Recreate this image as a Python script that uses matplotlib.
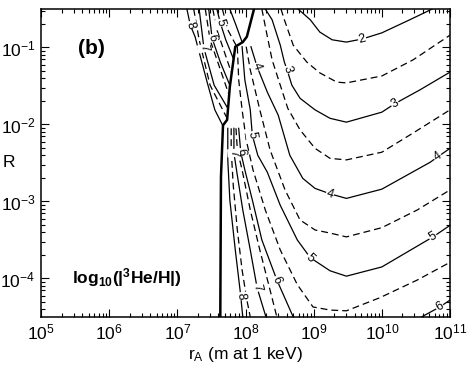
import numpy as np
import matplotlib
matplotlib.use("Agg")
from matplotlib import pyplot as plt

plt.rcParams['font.family'] = ['Liberation Sans', 'DejaVu Sans']
plt.rcParams['mathtext.fontset'] = 'custom'
plt.rcParams['mathtext.rm'] = 'Liberation Sans'
plt.rcParams['mathtext.it'] = 'Liberation Sans:italic'
plt.rcParams['mathtext.bf'] = 'Liberation Sans:bold'
plt.rcParams['axes.unicode_minus'] = False

# contours of log10(|3He/H|) as (log10 r_A, log10 R)
# right of the boundary
c2_x = [8.77, 8.95, 9.09, 9.27, 9.48, 9.71, 10.0, 10.41, 10.74]
c2_y = [-0.50, -0.64, -0.80, -0.90, -0.93, -0.89, -0.81, -0.64, -0.50]
c25_x = [8.52, 8.57, 8.70, 8.90, 9.09, 9.34, 9.48, 10.0, 10.46, 11.0]
c25_y = [-0.50, -0.64, -0.97, -1.19, -1.33, -1.45, -1.46, -1.37, -1.16, -0.84]
c3_x = [8.29, 8.39, 8.51, 8.57, 8.61, 8.68, 8.80, 9.02, 9.24, 9.48, 10.0, 10.19, 10.56, 11.0]
c3_y = [-0.50, -0.64, -0.97, -1.19, -1.29, -1.49, -1.66, -1.81, -1.92, -1.97, -1.84, -1.73, -1.55, -1.32]
c35_x = [8.24, 8.30, 8.39, 8.51, 8.62, 8.80, 9.02, 9.24, 9.48, 10.0, 10.46, 11.0]
c35_y = [-0.50, -0.77, -1.16, -1.49, -1.79, -2.07, -2.31, -2.44, -2.46, -2.36, -2.11, -1.81]
c4_x = [8.08, 8.17, 8.32, 8.48, 8.65, 8.84, 9.02, 9.24, 9.48, 10.0, 10.71, 10.82, 11.0]
c4_y = [-0.99, -1.25, -1.58, -1.88, -2.40, -2.70, -2.83, -2.90, -2.96, -2.84, -2.49, -2.42, -2.31]
c45_x = [8.01, 8.07, 8.14, 8.21, 8.36, 8.58, 8.80, 9.02, 9.24, 9.48, 10.0, 10.52, 11.0]
c45_y = [-0.99, -1.29, -1.55, -1.81, -2.33, -2.85, -3.24, -3.37, -3.41, -3.46, -3.34, -3.11, -2.85]
c5_x = [7.95, 7.99, 8.07, 8.10, 8.18, 8.32, 8.51, 8.76, 8.95, 9.24, 9.48, 10.0, 10.75, 11.0]
c5_y = [-0.99, -1.42, -1.81, -2.14, -2.40, -2.62, -3.05, -3.50, -3.73, -3.90, -3.97, -3.85, -3.46, -3.31]
c55_x = [7.88, 7.90, 7.95, 8.01, 8.11, 8.29, 8.51, 8.76, 8.99, 9.24, 9.48, 9.97, 10.52, 11.0]
c55_y = [-0.99, -1.42, -1.81, -2.20, -2.59, -3.11, -3.63, -4.08, -4.37, -4.41, -4.42, -4.25, -4.02, -3.79]
c6_x = [7.90, 7.93, 7.99, 8.10, 8.24, 8.46, 8.70, 8.80, 9.48, 10.0, 10.56, 10.85, 11.0]
c6_y = [-2.05, -2.36, -2.59, -2.98, -3.50, -4.02, -4.50, -4.73, -4.86, -4.73, -4.51, -4.37, -4.28]
c65_x = [7.86, 7.88, 7.95, 8.07, 8.21, 8.36, 8.46, 8.55]
c65_y = [-2.05, -2.33, -2.59, -3.11, -3.63, -4.15, -4.50, -4.70]
c7_x = [7.83, 7.83, 7.88, 7.96, 8.07, 8.17, 8.30, 8.40]
c7_y = [-2.05, -2.37, -2.66, -3.11, -3.63, -4.12, -4.50, -4.75]
c75_x = [7.79, 7.79, 7.82, 7.88, 7.95, 8.02, 8.07]
c75_y = [-2.05, -2.33, -2.79, -3.37, -3.89, -4.28, -4.50]
c8_x = [7.74, 7.74, 7.77, 7.85, 7.92, 7.93, 7.96]
c8_y = [-2.05, -2.46, -2.98, -3.63, -4.15, -4.23, -4.50]

# left of the boundary
l8_x = [7.14, 7.19, 7.26, 7.44, 7.55, 7.67]
l8_y = [-0.50, -0.71, -0.86, -1.46, -1.81, -2.02]
l75_x = [7.24, 7.32, 7.48, 7.73]
l75_y = [-0.50, -0.90, -1.49, -1.92]
l7_x = [7.32, 7.39, 7.54, 7.74]
l7_y = [-0.50, -1.01, -1.49, -1.79]
l65_x = [7.41, 7.48, 7.76]
l65_y = [-0.50, -0.90, -1.62]
l6_x = [7.46, 7.51, 7.63, 7.77]
l6_y = [-0.50, -0.88, -1.19, -1.49]
l55_x = [7.52, 7.58, 7.79]
l55_y = [-0.50, -0.77, -1.32]
l5_x = [7.58, 7.63, 7.71, 7.82]
l5_y = [-0.50, -0.68, -0.90, -1.14]
l45_x = [7.66, 7.74, 7.86]
l45_y = [-0.50, -0.77, -0.97]
l4_x = [7.77, 7.86, 7.95]
l4_y = [-0.50, -0.71, -0.93]

# thick boundary line
edge_x = [8.125, 8.02, 7.96, 7.85, 7.77, 7.73, 7.67, 7.64, 7.63]
edge_y = [-0.50, -0.86, -0.93, -0.99, -1.51, -1.94, -2.01, -2.68, -4.50]

lines = [
    (2.0, c2_x, c2_y), (2.5, c25_x, c25_y), (3.0, c3_x, c3_y), (3.5, c35_x, c35_y),
    (4.0, c4_x, c4_y), (4.5, c45_x, c45_y), (5.0, c5_x, c5_y), (5.5, c55_x, c55_y),
    (6.0, c6_x, c6_y), (6.5, c65_x, c65_y), (7.0, c7_x, c7_y), (7.5, c75_x, c75_y),
    (8.0, c8_x, c8_y),
    (8.0, l8_x, l8_y), (7.5, l75_x, l75_y), (7.0, l7_x, l7_y), (6.5, l65_x, l65_y),
    (6.0, l6_x, l6_y), (5.5, l55_x, l55_y), (5.0, l5_x, l5_y), (4.5, l45_x, l45_y),
    (4.0, l4_x, l4_y),
]

# (line, vertex where the label sits, text)
labels = [
    (c2_x, c2_y, 5, "2"),
    (c3_x, c3_y, 4, "3"), (c3_x, c3_y, 11, "3"),
    (c4_x, c4_y, 1, "4"), (c4_x, c4_y, 7, "4"), (c4_x, c4_y, 11, "4"),
    (c5_x, c5_y, 3, "5"), (c5_x, c5_y, 8, "5"), (c5_x, c5_y, 12, "5"),
    (c6_x, c6_y, 1, "6"), (c6_x, c6_y, 5, "6"), (c6_x, c6_y, 11, "6"),
    (c7_x, c7_y, 1, "7"), (c7_x, c7_y, 5, "7"),
    (c8_x, c8_y, 5, "8"),
    (l8_x, l8_y, 1, "8"), (l7_x, l7_y, 1, "7"), (l6_x, l6_y, 1, "6"), (l5_x, l5_y, 1, "5"),
]


def put_label(ax, xs, ys, i, txt):
    x = 10 ** np.asarray(xs, float)
    y = 10 ** np.asarray(ys, float)
    j0, j1 = max(i - 1, 0), min(i + 1, len(x) - 1)
    p0 = ax.transData.transform((x[j0], y[j0]))
    p1 = ax.transData.transform((x[j1], y[j1]))
    ang = np.degrees(np.arctan2(p1[1] - p0[1], p1[0] - p0[0]))
    if ang > 90:
        ang -= 180
    if ang < -90:
        ang += 180
    ax.text(x[i], y[i], txt, rotation=ang, rotation_mode='anchor',
            ha='center', va='center', fontsize=9, zorder=5,
            bbox=dict(boxstyle='square,pad=0.05', fc='white', ec='none'))


fig = plt.figure(figsize=[4.73, 3.71], dpi=100)
ax = fig.add_axes([0.0867, 0.1456, 0.8647, 0.8302])
ax.set_xscale('log')
ax.set_yscale('log')
ax.set_xlim(1e5, 1e11)
ax.set_ylim(10 ** -4.5, 10 ** -0.5)

for lev, xs, ys in lines:
    style = dict(color='k', lw=0.9)
    if lev % 1:
        style['dashes'] = (5.5, 3.2)
    ax.plot(10 ** np.array(xs), 10 ** np.array(ys), **style)

ax.plot(10 ** np.array(edge_x), 10 ** np.array(edge_y), color='k', lw=1.8)

for xs, ys, i, txt in labels:
    put_label(ax, xs, ys, i, txt)

ax.text(0.09, 0.873, "(b)", transform=ax.transAxes, fontsize=15,
        fontweight='bold', ha='left', va='center')
ax.text(0.076, 0.127, r"log$_{\mathbf{10}}$(|$^{\mathbf{3}}$He/H|)",
        transform=ax.transAxes, fontsize=12.5, fontweight='bold',
        ha='left', va='center')

ax.set_xlabel(r"r$_\mathrm{A}$ (m at 1 keV)", fontsize=12.5, labelpad=2)
ax.set_ylabel("R", fontsize=12.5, rotation=0, ha='center', va='center')
ax.yaxis.set_label_coords(-0.078, 0.5)

ax.tick_params(which='both', direction='in', top=True, right=True, labelsize=12.5, width=0.8)
ax.tick_params(which='major', length=6, pad=4)
ax.tick_params(which='minor', length=3)
ax.set_xticks([1e5, 1e6, 1e7, 1e8, 1e9, 1e10, 1e11])
ax.set_yticks([1e-4, 1e-3, 1e-2, 1e-1])
for s in ax.spines.values():
    s.set_linewidth(1.1)

fig.savefig("out.png", dpi=100)
